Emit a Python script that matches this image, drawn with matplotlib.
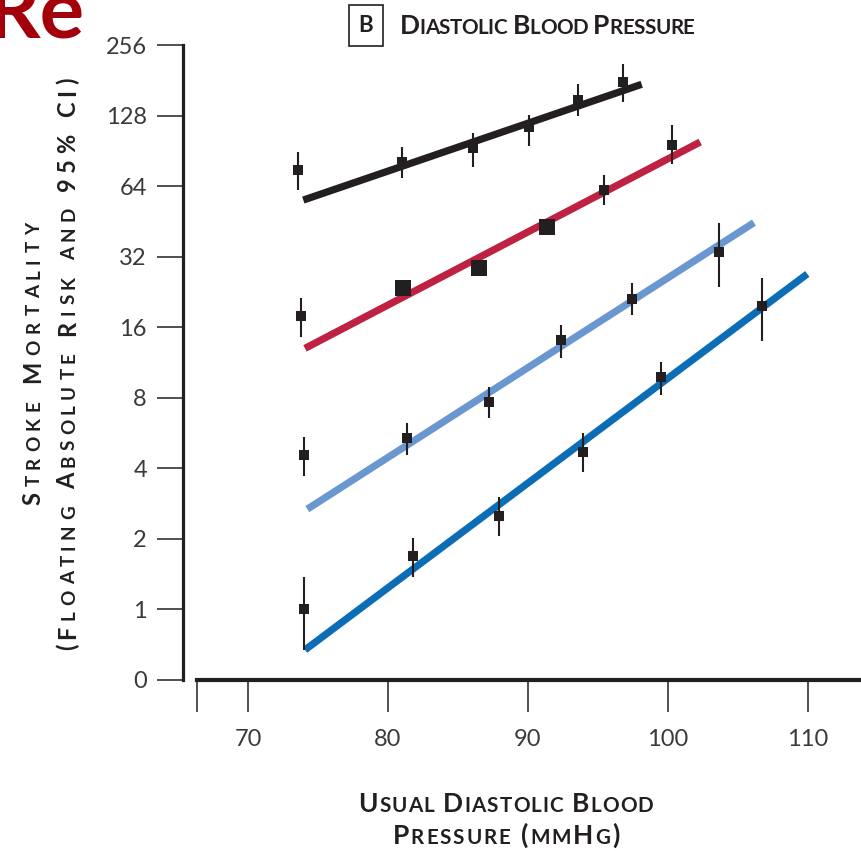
import numpy as np
import matplotlib
matplotlib.use("Agg")
import matplotlib.pyplot as plt
from matplotlib.font_manager import FontProperties

FONT = "Lato"
INK = "#231f20"

# --- data (values in mmHg / floating absolute risk) ---
y_ticks = [0.5, 1, 2, 4, 8, 16, 32, 64, 128, 256]
y_tick_labels = ["0", "1", "2", "4", "8", "16", "32", "64", "128", "256"]
x_ticks = [70, 80, 90, 100, 110]

# age 80-89
a80_x = [73.6, 81.0, 86.1, 90.1, 93.6, 96.8]
a80_y = [75.0, 81.4, 93.4, 114.7, 149.0, 177.6]
a80_lo = [61.6, 69.5, 77.4, 94.9, 127.8, 145.8]
a80_hi = [89.5, 94.3, 107.9, 128.7, 174.0, 212.4]
a80_line_x = [73.95, 98.12]
a80_line_y = [55.8, 174.0]

# age 70-79
a70_x = [73.76, 81.05, 86.52, 91.33, 95.45, 100.26]
a70_y = [17.9, 23.6, 28.7, 43.0, 61.6, 95.9]
a70_lo = [14.5, 22.3, 27.2, 41.0, 53.1, 79.6]
a70_hi = [21.3, 25.0, 30.3, 45.2, 71.4, 116.7]
a70_big = [False, True, True, True, False, False]
a70_line_x = [74.07, 102.3]
a70_line_y = [13.0, 98.7]

# age 60-69
a60_x = [74.0, 81.38, 87.24, 92.36, 97.45, 103.64]
a60_y = [4.56, 5.37, 7.7, 14.1, 21.1, 33.6]
a60_lo = [3.71, 4.56, 6.58, 11.86, 18.0, 23.8]
a60_hi = [5.43, 6.23, 8.92, 16.4, 24.6, 44.4]
a60_line_x = [74.24, 106.14]
a60_line_y = [2.68, 44.7]

# age 50-59
a50_x = [74.0, 81.81, 87.95, 93.95, 99.48, 106.69]
a50_y = [1.0, 1.69, 2.5, 4.69, 9.78, 19.7]
a50_lo = [0.672, 1.38, 2.06, 3.87, 8.22, 14.0]
a50_hi = [1.37, 2.01, 3.01, 5.65, 11.34, 26.0]
a50_line_x = [74.07, 109.95]
a50_line_y = [0.672, 27.0]

W, H = 862, 851
fig = plt.figure(figsize=(W / 100, H / 100), dpi=100)


def px(x, y):
    return x / W, 1 - y / H


def tracked_text(cx, cy, s, size, target, rotation=0, ratio=0.78, color=INK):
    """Fake small caps with letter spacing, centred on pixel point (cx, cy)."""
    r = fig.canvas.get_renderer()
    chars = []
    for ch in s:
        p = FontProperties(family=FONT, weight="bold",
                           size=size * ratio if ch.islower() else size)
        w_xx = r.get_text_width_height_descent("xx", p, ismath=False)[0]
        w = r.get_text_width_height_descent("x" + ch.upper() + "x", p, ismath=False)[0] - w_xx
        chars.append((ch.upper(), p, w))
    track = (target - sum(c[2] for c in chars)) / (len(chars) - 1)
    pos = -target / 2
    for ch, p, w in chars:
        if ch != " ":
            if rotation == 0:
                x, y = px(cx + pos, cy)
            else:
                x, y = px(cx, cy - pos)
            fig.text(x, y, ch, fontproperties=p, color=color, rotation=rotation,
                     rotation_mode="anchor", ha="left", va="baseline")
        pos += w + track


ax = fig.add_axes([183 / W, 1 - 680 / H, 1 - 183 / W, (680 - 45) / H])
ax.set_yscale("log", base=2)
ax.set_xlim(70 - 65 / 14, 70 + 614 / 14)
ax.set_ylim(0.5, 256)

x_start = 70 - 51 / 14
ax.spines[["top", "right"]].set_visible(False)
ax.spines["left"].set_bounds(0.5, 256)
ax.spines["left"].set_linewidth(2.3)
ax.spines["bottom"].set_bounds(x_start, 70 + 614 / 14)
ax.spines["bottom"].set_linewidth(3.0)
for sp in ax.spines.values():
    sp.set_color(INK)

ax.set_yticks(y_ticks)
ax.set_yticklabels(y_tick_labels)
ax.yaxis.set_minor_locator(matplotlib.ticker.NullLocator())
ax.set_xticks([x_start] + x_ticks)
ax.set_xticklabels([""] + [str(v) for v in x_ticks])
ax.tick_params(axis="y", length=19, width=1.1, pad=7, color=INK,
               labelsize=17, labelcolor="#3a3a3a")
ax.tick_params(axis="x", length=23, width=1.1, pad=12, color=INK,
               labelsize=17, labelcolor="#3a3a3a")
for lab in ax.get_xticklabels() + ax.get_yticklabels():
    lab.set_fontfamily(FONT)

series = [
    (a80_x, a80_y, a80_lo, a80_hi, a80_line_x, a80_line_y, "#231f20", [False] * 6),
    (a70_x, a70_y, a70_lo, a70_hi, a70_line_x, a70_line_y, "#bf2143", a70_big),
    (a60_x, a60_y, a60_lo, a60_hi, a60_line_x, a60_line_y, "#6a97cf", [False] * 6),
    (a50_x, a50_y, a50_lo, a50_hi, a50_line_x, a50_line_y, "#0a6db5", [False] * 6),
]
for xs, ys, lo, hi, lx, ly, col, big in series:
    ax.plot(lx, ly, color=col, lw=5.2, solid_capstyle="butt", zorder=2)
    ax.vlines(xs, lo, hi, color=INK, lw=1.5, zorder=3)
    for x, y, b in zip(xs, ys, big):
        ax.plot(x, y, marker="s", ms=11 if b else 6.5, color=INK, mew=0, zorder=4)

# title with boxed panel letter
fig.text(*px(366, 25), "B", fontfamily=FONT, fontweight="bold", fontsize=16,
         color=INK, ha="center", va="center",
         bbox=dict(boxstyle="square,pad=0.45", fc="white", ec=INK, lw=1.2))
tracked_text(547, 34, "Diastolic Blood Pressure", 19, 295)

# axis labels
tracked_text(506, 812, "Usual Diastolic Blood", 19, 295)
tracked_text(506, 844, "Pressure (mmHg)", 19, 227)
tracked_text(40, 364, "Stroke Mortality", 17, 282, rotation=90, ratio=0.8)
tracked_text(75, 364, "(Floating Absolute Risk and 95% CI)", 17, 573,
             rotation=90, ratio=0.8)

# fragment of the neighbouring panel's heading, cut by the crop
fig.text(*px(84, 37), "Re", fontfamily=FONT, fontweight="bold", fontsize=60,
         color="#a3000c", ha="right", va="baseline")

fig.savefig("out.png", dpi=100)
